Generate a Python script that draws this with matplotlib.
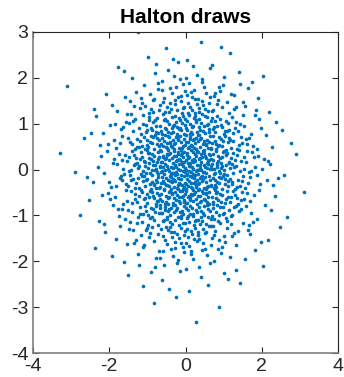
import numpy as np
import matplotlib
matplotlib.use("Agg")
import matplotlib.pyplot as plt
from statistics import NormalDist

# Data: the first N_DRAWS points of a 2-D Halton sequence (bases 2 and 3),
# mapped through the inverse standard-normal CDF.
N_DRAWS = 1100
BASES = [2, 3]
x_ticks = [-4, -2, 0, 2, 4]
y_ticks = [-4, -3, -2, -1, 0, 1, 2, 3]
title = "Halton draws"


def radical_inverse(n, b):
    f, r = 1.0, 0.0
    while n > 0:
        f /= b
        r += f * (n % b)
        n //= b
    return r


nd = NormalDist()
u1 = [radical_inverse(i, BASES[0]) for i in range(1, N_DRAWS + 1)]
u2 = [radical_inverse(i, BASES[1]) for i in range(1, N_DRAWS + 1)]
xs = np.array([nd.inv_cdf(u) for u in u1])
ys = np.array([nd.inv_cdf(u) for u in u2])

plt.rcParams['font.family'] = ['Liberation Sans', 'DejaVu Sans']
plt.rcParams['axes.unicode_minus'] = False
fig = plt.figure(figsize=(3.44, 3.77), dpi=100)
ax = fig.add_axes([33 / 344, 1 - 353 / 377, 305 / 344, 321 / 377])
ax.scatter(xs, ys, s=7, color='#0072BD', linewidths=0)
ax.set_xlim(-4, 4)
ax.set_ylim(-4, 3)
ax.set_xticks(x_ticks)
ax.set_yticks(y_ticks)
ax.tick_params(direction='in', length=4, top=True, right=True,
               labelsize=14, colors='#262626', width=0.8)
for s in ['left', 'bottom']:
    ax.spines[s].set_color('#7f7f7f')
    ax.spines[s].set_linewidth(1.2)
for s in ['top', 'right']:
    ax.spines[s].set_color('#262626')
    ax.spines[s].set_linewidth(0.8)
ax.set_title(title, fontsize=15, fontweight='bold', pad=6.5, color='#000000')
fig.savefig('out.png', dpi=100)
